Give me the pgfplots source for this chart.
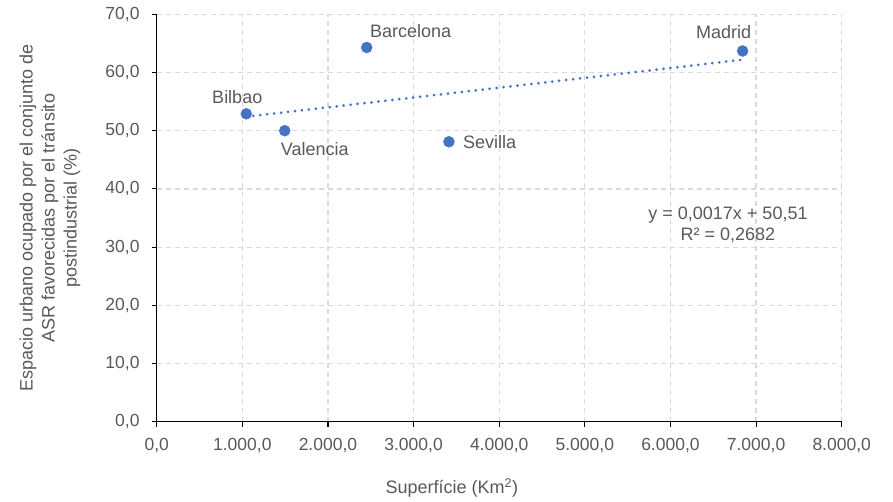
\documentclass[border=0pt]{standalone}
\usepackage{fontspec}
\setmainfont{Liberation Sans}
\usepackage{pgfplots}
\pgfplotsset{compat=1.18}
\definecolor{txt}{HTML}{595959}
\definecolor{ser}{HTML}{4472C4}
\definecolor{grd}{HTML}{D9D9D9}
\begin{document}
\begin{tikzpicture}
\path (-156.7pt,-79.3pt) rectangle (736.3pt,421.7pt);
\begin{axis}[
  at={(0,0)}, anchor=south west,
  scale only axis, width=685pt, height=407.4pt,
  xmin=0, xmax=8000, ymin=0, ymax=70,
  xtick={0,1000,...,8000}, ytick={0,10,...,70},
  axis lines=left, axis line style={black, line width=1.1pt, -},
  grid=major, major grid style={grd, dash pattern=on 5pt off 4pt, line width=1.2pt},
  tick align=outside, major tick length=5pt, tick style={black, line width=1.1pt},
  /pgf/number format/.cd, use comma, 1000 sep={.}, fixed, fixed zerofill, precision=1, assume math mode=true,
  /pgfplots/.cd,
  ticklabel style={font=\fontsize{17.5}{20}\selectfont, text=txt, inner sep=0pt},
  yticklabel style={anchor=east, xshift=-12pt},
  xticklabel style={anchor=north, yshift=-11pt},
  xlabel={Superfície (Km\textsuperscript{2})},
  ylabel={Espacio urbano ocupado por el conjunto de\\ASR favorecidas por el tránsito\\postindustrial (\%)},
  xlabel style={at={(axis description cs:0.431,-0.163)}, anchor=center, font=\fontsize{18}{22}\selectfont, text=txt},
  ylabel style={at={(axis description cs:-0.1558,0.5)}, anchor=center, align=center, font=\fontsize{18}{22}\selectfont, text=txt},
  clip=false,
]
\addplot[ser, line width=3pt, dash pattern=on 0pt off 7pt, line cap=round, no marks] coordinates {(1046,52.4) (6843,62.2)};
\addplot[only marks, mark=*, mark size=5.5pt, mark options={draw=ser, fill=ser}] coordinates {
  (1046,52.9) (1495,50.0) (2453,64.3) (3413,48.1) (6843,63.7)};
\begin{scope}[every node/.style={font=\fontsize{18}{21}\selectfont, text=txt, inner sep=0pt}]
\node[xshift=-9pt, yshift=17pt] at (axis cs:1046,52.9) {Bilbao};
\node[xshift=30pt, yshift=-18pt] at (axis cs:1495,50.0) {Valencia};
\node[xshift=44pt, yshift=16pt] at (axis cs:2453,64.3) {Barcelona};
\node[anchor=west, xshift=14pt] at (axis cs:3413,48.1) {Sevilla};
\node[xshift=-19pt, yshift=19pt] at (axis cs:6843,63.7) {Madrid};
\node[align=center] at (axis cs:6672,33.8) {y = 0,0017x + 50,51\\R² = 0,2682};
\end{scope}
\end{axis}
\end{tikzpicture}
\end{document}
